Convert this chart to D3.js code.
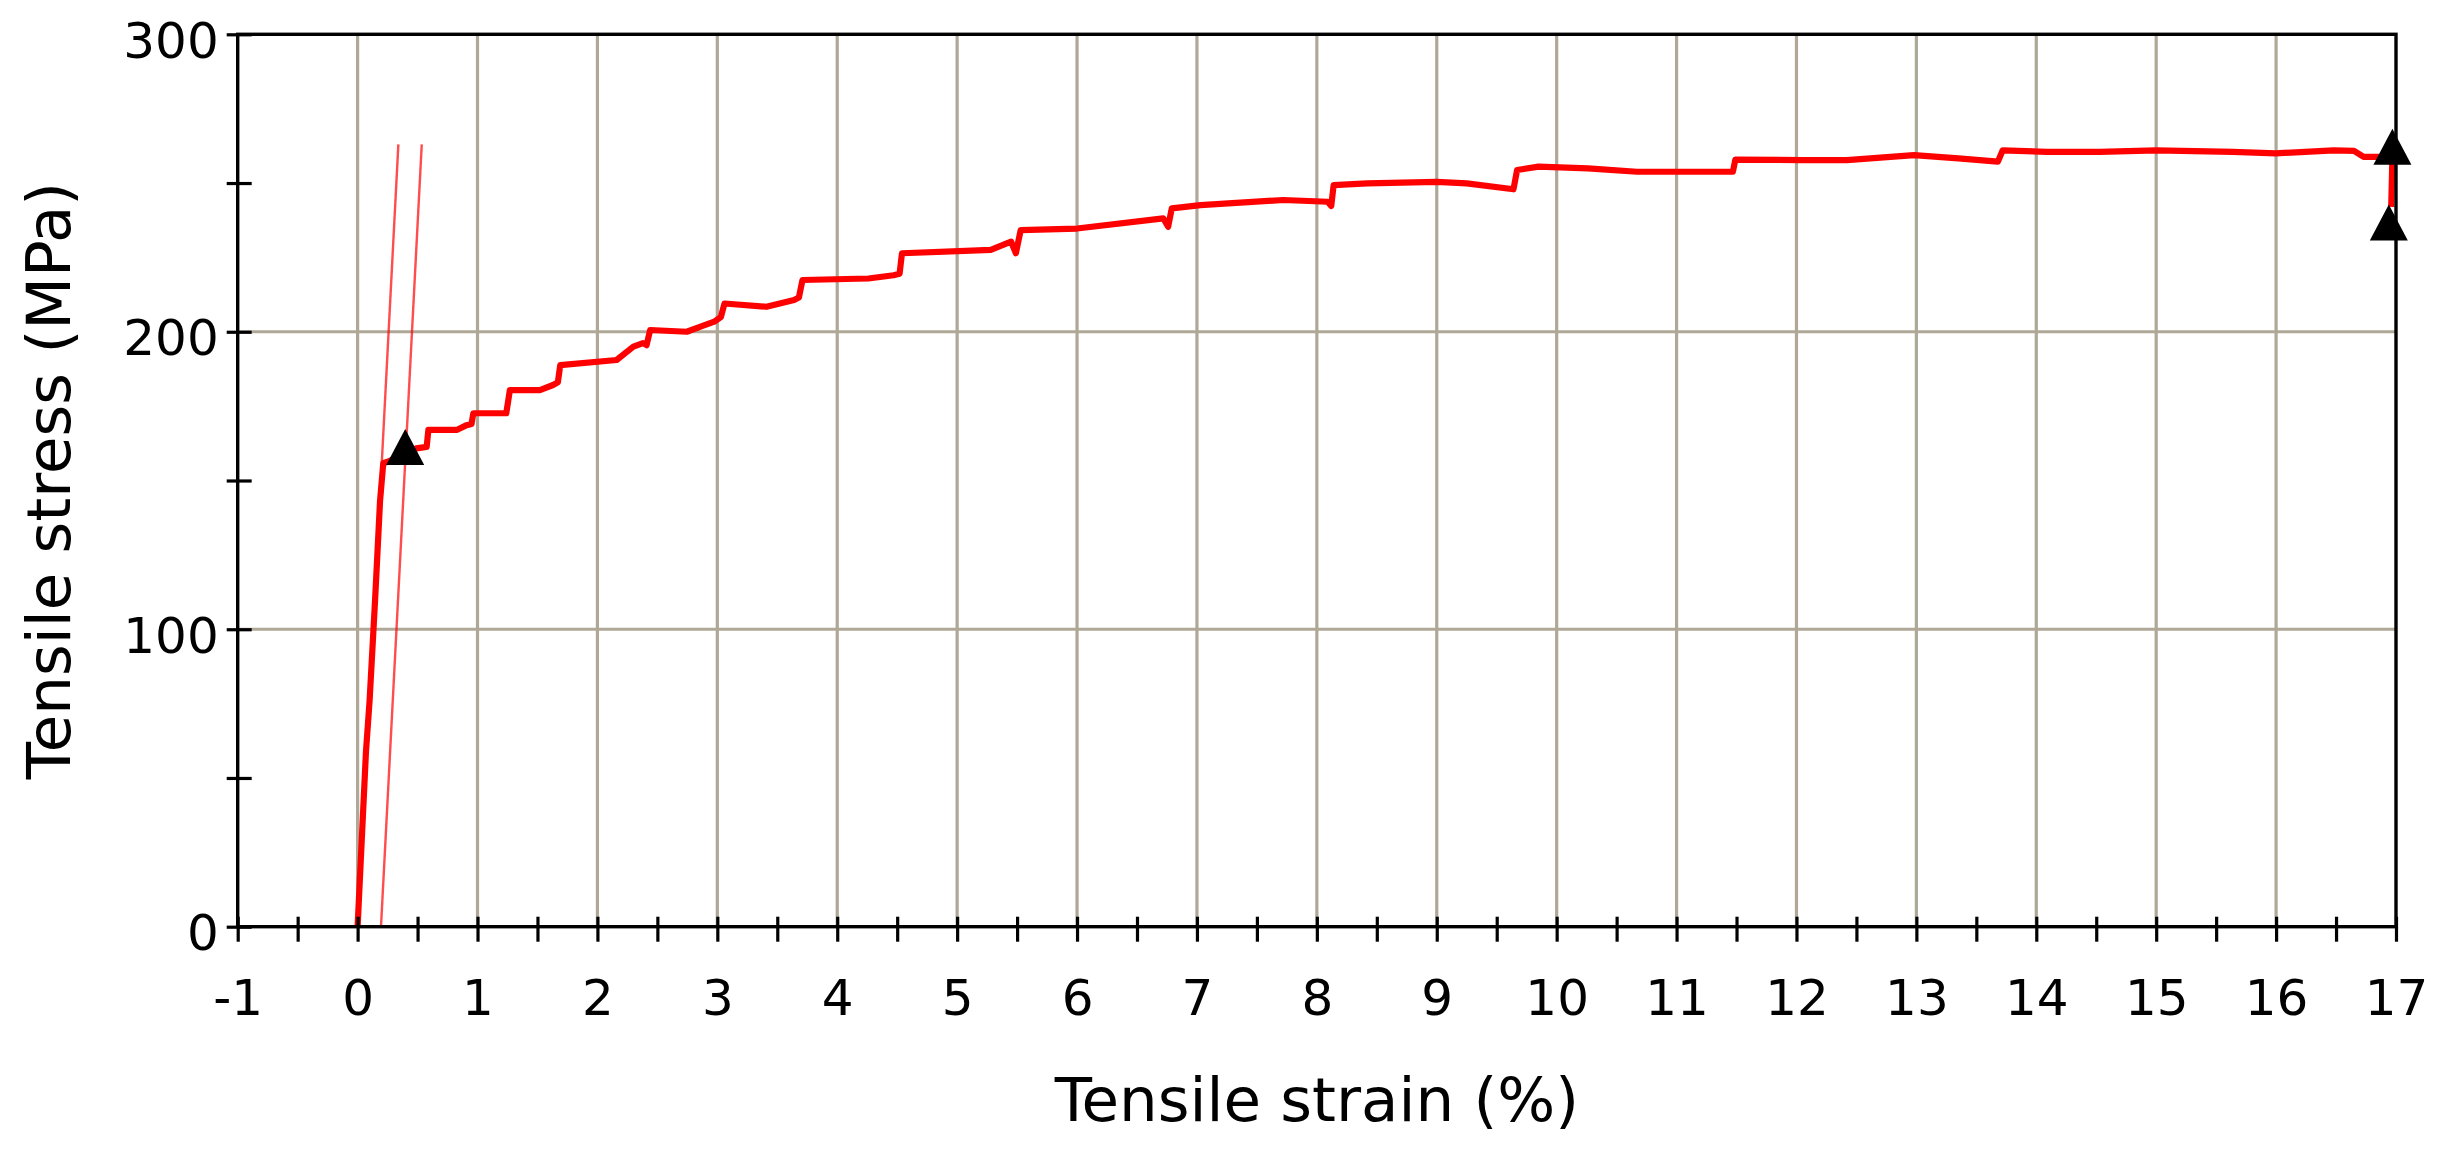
<!DOCTYPE html>
<html>
<head>
<meta charset="utf-8">
<script src="https://cdn.jsdelivr.net/npm/d3@7"></script>
<style>
html,body{margin:0;padding:0;background:#fff;}
svg{display:block;}
</style>
</head>
<body>
<svg id="chart" width="2441" height="1152"></svg>
<script>
// ---- data ----
const xTickLabels = [-1,0,1,2,3,4,5,6,7,8,9,10,11,12,13,14,15,16,17];
const yTickLabels = [0,100,200,300];
const xTitle = "Tensile strain (%)";
const yTitle = "Tensile stress (MPa)";

const strain = [0,0.07,0.10,0.146,0.187,0.214,0.25,0.40,0.49,0.576,0.59,0.826,0.91,0.95,0.965,1.24,1.27,1.52,1.63,1.67,1.69,2.16,2.30,2.38,2.41,2.44,2.745,2.86,2.98,3.03,3.06,3.41,3.64,3.68,3.71,4.26,4.47,4.52,4.54,5.28,5.45,5.49,5.53,6.0,6.72,6.76,6.79,7.03,7.72,8.09,8.12,8.14,8.42,9.0,9.25,9.64,9.67,9.85,10.26,10.67,11.47,11.49,12.05,12.42,12.98,13.35,13.68,13.72,14.09,14.53,15.0,15.64,16.0,16.48,16.65,16.73,16.95,16.97,16.96];
const stress = [0,59,76,110,143,155.8,156.3,159,160.8,161.3,167,167,168.6,169,172.6,172.6,180.4,180.4,182.1,183,188.8,190.5,195,196.2,195.5,200.6,200,201.7,203.5,205,209.5,208.4,210.7,211.5,217.4,217.9,219,219.5,226.4,227.5,230.3,226.4,234.2,234.7,238.1,235.3,241.5,242.6,244.3,243.7,242.3,249.3,249.9,250.4,249.9,247.9,254.4,255.5,254.9,253.8,253.8,257.9,257.7,257.7,259.4,258.3,257.2,261,260.5,260.5,261,260.5,260,261,260.8,258.8,258.8,258.5,242];

// modulus line and 0.2% offset line
const modLineStrain = [0.0, 0.34];
const modLineStress = [0, 263];
const offLineStrain = [0.195, 0.535];
const offLineStress = [0, 263];

// triangle markers (yield, max, break)
const markerStrain = [0.397, 16.97, 16.94];
const markerStress = [161.3, 262.2, 236.7];

// ---- layout ----
const svg = d3.select("#chart");
const pL = 237.7, pR = 2396, pT = 34.3, pB = 926.7;
const x = d3.scaleLinear().domain([-1,17]).range([pL,pR]);
const y = d3.scaleLinear().domain([0,300]).range([pB,pT]);
const gridColor = "#afa897";
const font = "'DejaVu Sans', Verdana, sans-serif";
const fmt = d => String(d);

// grid
const g = svg.append("g");
g.selectAll("line.vg").data(d3.range(0,17,1)).join("line")
  .attr("x1",d=>x(d)).attr("x2",d=>x(d)).attr("y1",pT).attr("y2",pB)
  .attr("stroke",gridColor).attr("stroke-width",3.2);
g.selectAll("line.hg").data([100,200]).join("line")
  .attr("y1",d=>y(d)).attr("y2",d=>y(d)).attr("x1",pL).attr("x2",pR)
  .attr("stroke",gridColor).attr("stroke-width",3.2);

// thin lines
const line = d3.line().x(d=>x(d[0])).y(d=>y(d[1]));
[[modLineStrain,modLineStress],[offLineStrain,offLineStress]].forEach(([a,b])=>{
  svg.append("path").datum(a.map((v,i)=>[v,b[i]]))
    .attr("d",line).attr("fill","none").attr("stroke","#ff0000")
    .attr("stroke-width",2.4).attr("stroke-opacity",0.7);
});

// main curve
svg.append("path").datum(strain.map((v,i)=>[v,stress[i]]))
  .attr("d",line).attr("fill","none").attr("stroke","#ff0000")
  .attr("stroke-width",6.2).attr("stroke-linejoin","round");

// frame
svg.append("rect").attr("x",pL).attr("y",pT).attr("width",pR-pL).attr("height",pB-pT)
  .attr("fill","none").attr("stroke","#000").attr("stroke-width",3.4);

// x ticks (every 0.5)
const xAxis = d3.axisBottom(x).tickValues(d3.range(-1,17.01,0.5)).tickSize(15).tickFormat("");
const xa = svg.append("g").attr("transform",`translate(0,${pB})`).call(xAxis);
xa.select(".domain").remove();
xa.selectAll(".tick line").attr("y1",-10).attr("stroke","#000").attr("stroke-width",3.2);

// x labels
const xLab = d3.axisBottom(x).tickValues(xTickLabels).tickSize(0).tickPadding(0).tickFormat(fmt);
const xl = svg.append("g").attr("transform",`translate(0,${pB})`).call(xLab);
xl.select(".domain").remove();
xl.selectAll(".tick text").attr("y",88).attr("dy",null).attr("font-family",font).attr("font-size",50).attr("fill","#000");

// y ticks every 50
const yAxis = d3.axisLeft(y).tickValues(d3.range(0,301,50)).tickSize(11).tickFormat("");
const ya = svg.append("g").attr("transform",`translate(${pL},0)`).call(yAxis);
ya.select(".domain").remove();
ya.selectAll(".tick line").attr("x1",14).attr("stroke","#000").attr("stroke-width",3.2);

// y labels
const yLab = d3.axisLeft(y).tickValues(yTickLabels).tickSize(0).tickPadding(0).tickFormat(fmt);
const yl = svg.append("g").attr("transform",`translate(${pL},0)`).call(yLab);
yl.select(".domain").remove();
yl.selectAll(".tick text").attr("x",-19).attr("dy",null).attr("y",23).attr("font-family",font).attr("font-size",50).attr("fill","#000");

// markers
const tri = (cx,cy,w,h)=>`M${cx},${cy-h/2}L${cx+w/2},${cy+h/2}L${cx-w/2},${cy+h/2}Z`;
svg.selectAll("path.mk").data(markerStrain.map((v,i)=>[v,markerStress[i]])).join("path")
  .attr("d",d=>tri(x(d[0]),y(d[1]),38,36)).attr("fill","#000");

// titles
svg.append("text").attr("x",(pL+pR)/2).attr("y",1121).attr("text-anchor","middle")
  .attr("font-family",font).attr("font-size",61).attr("fill","#000").text(xTitle);
svg.append("text").attr("transform",`translate(70,${(pT+pB)/2}) rotate(-90)`).attr("text-anchor","middle")
  .attr("font-family",font).attr("font-size",61).attr("fill","#000").text(yTitle);
</script>
</body>
</html>
